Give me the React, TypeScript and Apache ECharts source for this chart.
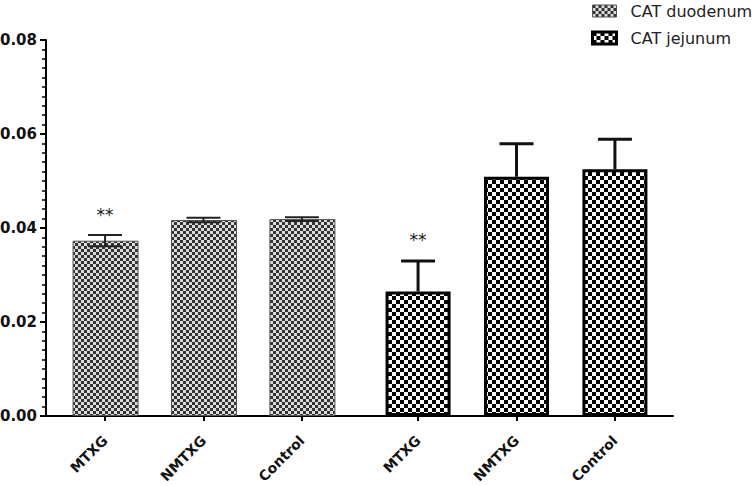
import React, { useEffect, useRef } from "react";
import * as echarts from "echarts";

const categories = ["MTXG", "NMTXG", "Control", "MTXG", "NMTXG", "Control"];
const xPositions = [1, 2, 3, 4.18, 5.18, 6.18];
const duodenumMeans = [0.0373, 0.0417, 0.0419];
const duodenumSem = [0.0012, 0.0005, 0.0004];
const jejunumMeans = [0.0265, 0.0509, 0.0525];
const jejunumSem = [0.0065, 0.007, 0.0064];
const significance = ["**", "", "", "**", "", ""];
const seriesNames = ["CAT duodenum", "CAT jejunum"];

const FONT = "DejaVu Sans";

function makeChecker(cell: number, dark: string, light: string) {
  const c = document.createElement("canvas");
  c.width = cell * 2;
  c.height = cell * 2;
  const ctx = c.getContext("2d")!;
  ctx.fillStyle = light;
  ctx.fillRect(0, 0, cell * 2, cell * 2);
  ctx.fillStyle = dark;
  ctx.fillRect(0, 0, cell, cell);
  ctx.fillRect(cell, cell, cell, cell);
  return {
    image: c,
    repeat: "repeat",
    imageWidth: cell * 2,
    imageHeight: cell * 2,
  } as any;
}

export default function App() {
  const ref = useRef<HTMLDivElement>(null);
  useEffect(() => {
    if (!ref.current) return;
    const chart = echarts.init(ref.current, null, { renderer: "svg" });
    const fine = makeChecker(3, "#333333", "#dcdcdc");
    const coarse = makeChecker(4, "#000000", "#ffffff");

    const duoData = duodenumMeans.map((v, i) => [xPositions[i], v]);
    const jejData = jejunumMeans.map((v, i) => [xPositions[i + 3], v]);
    const allMeans = [...duodenumMeans, ...jejunumMeans];
    const allSem = [...duodenumSem, ...jejunumSem];
    const errData = allMeans.map((m, i) => [xPositions[i], m, allSem[i]]);

    chart.setOption({
      animation: false,
      backgroundColor: "#ffffff",
      grid: {
        left: 46,
        right: 83,
        top: 40,
        bottom: 70,
        containLabel: false,
        outerBoundsMode: "none",
      },
      legend: {
        data: [
          { name: seriesNames[0], itemStyle: { borderColor: "#555", borderWidth: 1 } },
          { name: seriesNames[1], itemStyle: { borderColor: "#000", borderWidth: 3 } },
        ],
        orient: "vertical",
        left: 591,
        top: 3,
        padding: 0,
        itemWidth: 24,
        itemHeight: 12,
        itemGap: 11,
        icon: "rect",
        textStyle: {
          fontFamily: FONT,
          fontSize: 16,
          color: "#222",
          padding: [0, 0, 0, 9],
          lineHeight: 16,
        },
      },
      xAxis: {
        type: "value",
        min: 0.4,
        max: 6.77,
        axisLine: { show: true, onZero: false, lineStyle: { color: "#000", width: 2 } },
        axisTick: {
          show: true,
          customValues: xPositions,
          length: 5,
          lineStyle: { color: "#000", width: 2 },
        },
        axisLabel: {
          customValues: xPositions,
          rotate: 45,
          margin: 22,
          fontFamily: FONT,
          fontWeight: "bold",
          fontSize: 14,
          color: "#111",
          formatter: (v: number) => {
            let best = 0;
            for (let i = 1; i < xPositions.length; i++) {
              if (Math.abs(xPositions[i] - v) < Math.abs(xPositions[best] - v)) best = i;
            }
            return categories[best];
          },
        },
        splitLine: { show: false },
      },
      yAxis: {
        type: "value",
        min: 0,
        max: 0.08,
        interval: 0.02,
        axisLine: { show: true, lineStyle: { color: "#000", width: 2 } },
        axisTick: { show: true, length: 6, lineStyle: { color: "#000", width: 2 } },
        minorTick: { show: true, splitNumber: 10, length: 4, lineStyle: { color: "#000", width: 1.5 } },
        splitLine: { show: false },
        axisLabel: {
          margin: 9,
          fontFamily: FONT,
          fontWeight: "bold",
          fontSize: 15,
          color: "#111",
          formatter: (v: number) => v.toFixed(2),
        },
      },
      series: [
        {
          name: seriesNames[0],
          type: "bar",
          data: duoData,
          barWidth: 66,
          barGap: "-100%",
          itemStyle: { color: fine, borderColor: "#555", borderWidth: 1 },
          z: 2,
        },
        {
          name: seriesNames[1],
          type: "bar",
          data: jejData,
          barWidth: 65,
          barGap: "-100%",
          itemStyle: { color: coarse, borderColor: "#000", borderWidth: 3 },
          z: 2,
        },
        {
          type: "custom",
          data: errData,
          z: 5,
          silent: true,
          renderItem: (params: any, api: any) => {
            const i = params.dataIndex;
            const x = api.value(0);
            const m = api.value(1);
            const s = api.value(2);
            const both = i < 3;
            const lw = both ? 2 : 3;
            const top = api.coord([x, m + s]);
            const mid = api.coord([x, m]);
            const bot = api.coord([x, m - s]);
            const half = 17;
            const stroke = { stroke: both ? "#222" : "#111", lineWidth: lw };
            const children: any[] = [
              {
                type: "line",
                shape: { x1: top[0], y1: top[1], x2: top[0], y2: both ? bot[1] : mid[1] },
                style: stroke,
              },
              {
                type: "line",
                shape: { x1: top[0] - half, y1: top[1], x2: top[0] + half, y2: top[1] },
                style: stroke,
              },
            ];
            if (both) {
              children.push({
                type: "line",
                shape: { x1: bot[0] - half, y1: bot[1], x2: bot[0] + half, y2: bot[1] },
                style: stroke,
              });
            }
            if (significance[i]) {
              children.push({
                type: "text",
                x: top[0],
                y: top[1] - 12,
                style: {
                  text: significance[i],
                  fill: "#1a1a1a",
                  stroke: "none",
                  fontFamily: FONT,
                  fontSize: 17,
                  align: "center",
                  verticalAlign: "bottom",
                },
              });
            }
            return { type: "group", children };
          },
        },
      ],
    });
    return () => chart.dispose();
  }, []);
  return (
    <div
      ref={ref}
      style={{ position: "fixed", left: 0, top: 0, width: 756, height: 486, background: "#fff" }}
    />
  );
}
